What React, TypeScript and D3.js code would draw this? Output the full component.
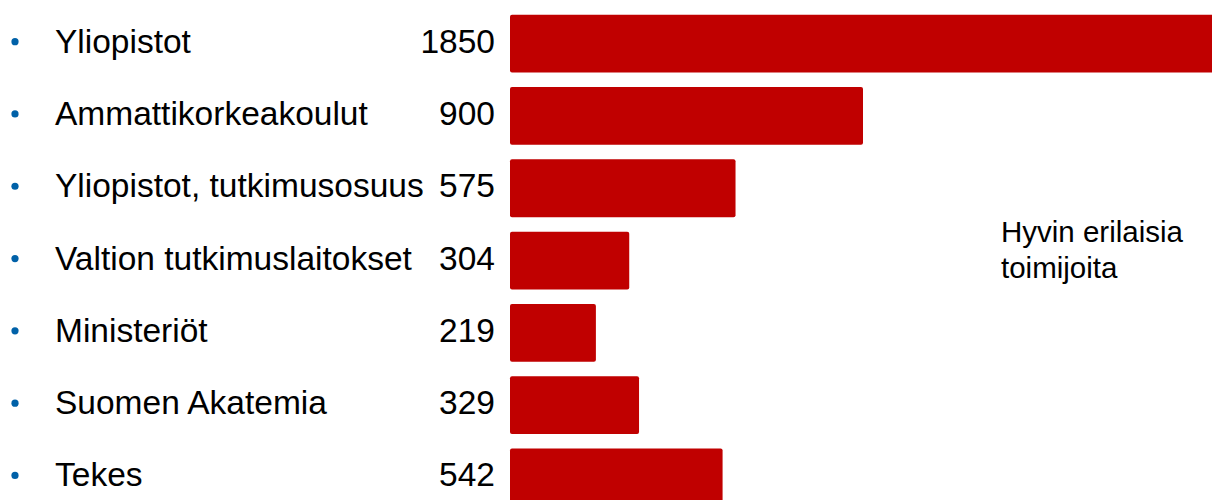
import React, { useEffect } from 'react';
import * as d3 from 'd3';

const categories = [
  'Yliopistot',
  'Ammattikorkeakoulut',
  'Yliopistot, tutkimusosuus',
  'Valtion tutkimuslaitokset',
  'Ministeriöt',
  'Suomen Akatemia',
  'Tekes',
];
const values = [1850, 900, 575, 304, 219, 329, 542];
const noteLines = ['Hyvin erilaisia', 'toimijoita'];

const W = 1212;
const H = 500;
const FONT = '"Liberation Sans", Arial, sans-serif';

export default function App() {
  useEffect(() => {
    document.body.style.margin = '0';
  }, []);

  const y = d3.scaleBand<string>()
    .domain(categories)
    .range([7.5, 513.6])
    .paddingInner(0.2)
    .paddingOuter(0.1);

  const barLeft = 510;
  const x = d3.scaleLinear()
    .domain([0, 900])
    .range([barLeft, barLeft + 353]);

  const rows = categories.map((c, i) => ({ label: c, value: values[i] }));

  return (
    <svg width={W} height={H} style={{ display: 'block' }} fontFamily={FONT}>
      {rows.map(d => {
        const top = y(d.label)!;
        const mid = top + y.bandwidth() / 2;
        const base = mid + 9;
        return (
          <g key={d.label}>
            <circle cx={15} cy={base - 11} r={3.6} fill="#0061A8" />
            <text x={55} y={base} fontSize={33.5} fill="#000">{d.label}</text>
            <text x={495} y={base} fontSize={33.5} fill="#000" textAnchor="end">{d.value}</text>
            <rect
              x={x(0)}
              y={top}
              width={x(d.value) - x(0)}
              height={y.bandwidth()}
              rx={2}
              fill="#C00000"
            />
          </g>
        );
      })}
      {noteLines.map((t, i) => (
        <text key={t} x={1001} y={242 + i * 36} fontSize={29.5} fill="#000">{t}</text>
      ))}
    </svg>
  );
}
